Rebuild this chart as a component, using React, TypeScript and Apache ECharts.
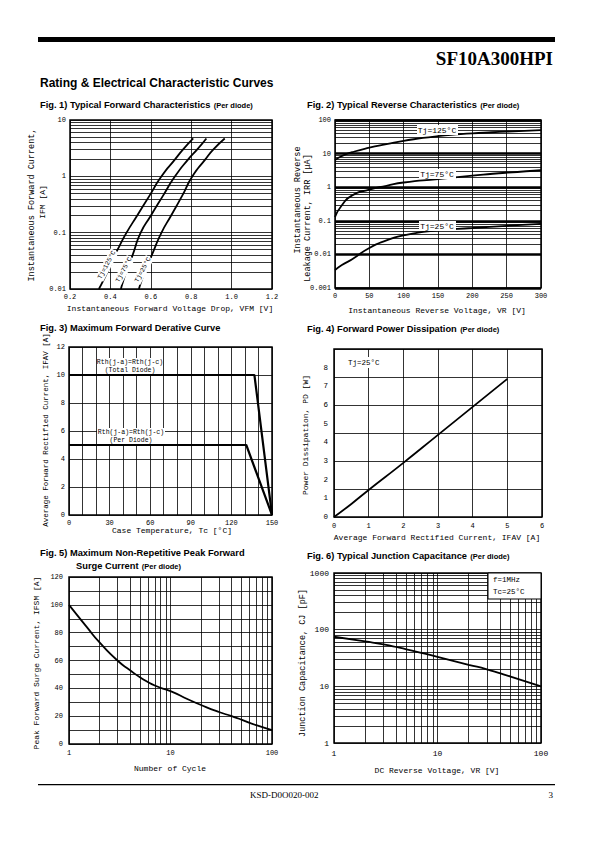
import React, { useEffect, useRef } from "react";
import * as echarts from "echarts";

// ---------- DATA ----------
// Fig 1: forward characteristics (V, A)
const fig1V125 = [0.343, 0.385, 0.415, 0.447, 0.48, 0.532, 0.593, 0.653, 0.72, 0.76, 0.81];
const fig1I125 = [0.01, 0.02, 0.035, 0.06, 0.1, 0.2, 0.45, 1.0, 2.0, 3.0, 4.7];
const fig1V75 = [0.452, 0.478, 0.51, 0.55, 0.6, 0.66, 0.72, 0.785, 0.83, 0.875];
const fig1I75 = [0.01, 0.02, 0.04, 0.1, 0.2, 0.45, 1.0, 2.0, 3.0, 4.7];
const fig1V25 = [0.541, 0.57, 0.605, 0.653, 0.7, 0.755, 0.806, 0.87, 0.91, 0.966];
const fig1I25 = [0.01, 0.02, 0.04, 0.1, 0.2, 0.45, 1.0, 2.0, 3.0, 4.7];
const fig1Labels = ["Tj=125°C", "Tj=75°C", "Tj=25°C"];

// Fig 2: reverse characteristics (V, uA)
const fig2V = [0, 10, 25, 50, 75, 100, 150, 200, 250, 300];
const fig2I125 = [6.4, 8.5, 11, 15, 19, 24, 33, 40, 45, 50];
const fig2I75 = [0.13, 0.29, 0.57, 0.85, 1.1, 1.38, 1.75, 2.2, 2.7, 3.2];
const fig2I25 = [0.0034, 0.0048, 0.0072, 0.0155, 0.026, 0.037, 0.052, 0.061, 0.071, 0.081];
const fig2Labels = ["Tj=125°C", "Tj=75°C", "Tj=25°C"];

// Fig 3: derating (°C, A)
const fig3TcTotal = [0, 137, 150];
const fig3IfTotal = [10, 10, 0];
const fig3TcPer = [0, 131, 150];
const fig3IfPer = [5, 5, 0];

// Fig 4: power dissipation (A, W)
const fig4If = [0, 0.5, 1, 2, 3, 4, 5];
const fig4Pd = [0, 0.7, 1.45, 2.9, 4.4, 5.9, 7.4];

// Fig 5: surge current (cycles, A)
const fig5N = [1, 1.5, 2, 3, 4, 5, 7, 10, 15, 20, 30, 40, 50, 70, 100];
const fig5I = [100, 84, 73, 60, 53, 48, 42, 38, 32, 28, 23, 20, 17.5, 13.5, 10];

// Fig 6: junction capacitance (V, pF)
const fig6V = [1, 2, 3, 5, 10, 20, 30, 50, 100];
const fig6C = [75, 62, 55, 45, 33, 24, 20, 15, 10];

// ---------- STYLE ----------
const MONO = "'Liberation Mono', 'DejaVu Sans Mono', monospace";
const SANS = "'Liberation Sans', Arial, sans-serif";
const SERIF = "'Liberation Serif', 'Times New Roman', serif";
const GRID_LINE = { color: "#000", width: 0.8, type: "solid" as const };

function zip(xs: number[], ys: number[]) {
  return xs.map((x, i) => [x, ys[i]]);
}

function logMinors(lo: number, hi: number) {
  const out: number[] = [];
  for (let d = lo; d < hi * 0.999; d *= 10) {
    for (let k = 2; k <= 9; k++) out.push(Number((d * k).toPrecision(3)));
  }
  return out;
}

function minorMarks(xs: number[], ys: number[], width = 0.8) {
  return {
    silent: true,
    symbol: ["none", "none"],
    label: { show: false },
    emphasis: { disabled: true },
    animation: false,
    lineStyle: { color: "#000", width, type: "solid" },
    data: [...xs.map((v) => ({ xAxis: v })), ...ys.map((v) => ({ yAxis: v }))],
  };
}

function curve(xi: number, yi: number, data: number[][], extra: any = {}) {
  return {
    type: "line",
    xAxisIndex: xi,
    yAxisIndex: yi,
    data,
    showSymbol: false,
    symbol: "none",
    smooth: 0.6,
    silent: true,
    animation: false,
    z: 5,
    lineStyle: { color: "#000", width: 1.8 },
    ...extra,
  };
}

const baseLabel = { color: "#000", fontFamily: MONO, fontSize: 7, margin: 4 };
const plain = (v: number) => String(Number(v.toPrecision(6)));

function axis(gridIndex: number, extra: any = {}, label: any = {}, split: any = {}) {
  return {
    gridIndex,
    axisLine: { show: false },
    axisTick: { show: false },
    splitLine: { show: true, lineStyle: { ...GRID_LINE, ...split } },
    axisLabel: { ...baseLabel, ...label },
    ...extra,
  };
}

function grid(left: number, top: number, width: number, height: number) {
  return { left, top, width, height, show: true, borderColor: "#000", borderWidth: 1.5, containLabel: false };
}

function text(x: number, y: number, t: string, o: any = {}) {
  const { rotation, size, family, weight, align, valign, bg, ...rest } = o;
  return {
    type: "text",
    x,
    y,
    rotation: rotation || 0,
    z: 100,
    silent: true,
    style: {
      text: t,
      fill: "#000",
      fontSize: size || 8,
      fontFamily: family || MONO,
      fontWeight: weight || "normal",
      textAlign: align || "left",
      textVerticalAlign: valign || "middle",
      ...(bg ? { backgroundColor: "#fff", padding: [1, 1] } : {}),
      ...rest,
    },
  };
}

function title(x: number, y: number, main: string, sub: string) {
  return {
    type: "text",
    x,
    y,
    z: 100,
    silent: true,
    style: {
      text: sub ? `{b|${main}} {s|${sub}}` : `{b|${main}}`,
      textVerticalAlign: "middle",
      fill: "#000",
      rich: {
        b: { fontFamily: SANS, fontWeight: "bold", fontSize: 9.3, fill: "#000" },
        s: { fontFamily: SANS, fontWeight: "bold", fontSize: 7.5, fill: "#000" },
      },
    },
  };
}

function whiteRect(x: number, y: number, w: number, h: number, stroke = false) {
  return {
    type: "rect",
    z: 90,
    silent: true,
    shape: { x, y, width: w, height: h },
    style: { fill: "#fff", stroke: stroke ? "#000" : undefined, lineWidth: stroke ? 1 : 0 },
  };
}

const deg = Math.PI / 180;

export default function App() {
  const ref = useRef<HTMLDivElement>(null);
  useEffect(() => {
    if (!ref.current) return;
    const chart = echarts.init(ref.current, undefined, { renderer: "svg" });

    const option: any = {
      animation: false,
      backgroundColor: "#fff",
      grid: [
        grid(70, 120, 202, 169),
        grid(335, 120, 206, 168),
        grid(69, 347, 203, 168),
        grid(334, 349, 208, 168),
        grid(69, 577, 203, 167),
        grid(334, 573, 207, 170),
      ],
      xAxis: [
        axis(0, { type: "value", min: 0.2, max: 1.2, interval: 0.2 }, { formatter: (v: number) => v.toFixed(1) }),
        axis(1, { type: "value", min: 0, max: 300, interval: 50 }),
        axis(2, { type: "value", min: 0, max: 150, interval: 10 }, { formatter: (v: number) => (v % 30 === 0 ? String(v) : "") }),
        axis(3, { type: "value", min: 0, max: 6, interval: 1 }, { margin: 5 }),
        axis(4, { type: "log", logBase: 10, min: 1, max: 100 }, { margin: 5, formatter: plain }),
        axis(5, { type: "log", logBase: 10, min: 1, max: 100 }, { margin: 6, fontSize: 8, formatter: plain }),
      ],
      yAxis: [
        axis(0, { type: "log", logBase: 10, min: 0.01, max: 10 }, { formatter: plain }),
        axis(1, { type: "log", logBase: 10, min: 0.001, max: 100 }, { formatter: plain }, { width: 2.5 }),
        axis(2, { type: "value", min: 0, max: 12, interval: 2 }),
        axis(3, { type: "value", min: 0, max: 9, interval: 1, splitLine: { show: false } }, { margin: 6, fontSize: 7.5, formatter: (v: number) => (v <= 8 ? String(v) : "") }),
        axis(3, { type: "value", min: 0, max: 9, interval: 1.5, axisLabel: { show: false } }),
        axis(4, { type: "value", min: 0, max: 120, interval: 10 }, { margin: 6, formatter: (v: number) => (v % 20 === 0 ? String(v) : "") }),
        axis(5, { type: "log", logBase: 10, min: 1, max: 1000 }, { margin: 5, fontSize: 8, formatter: plain }),
      ],
      series: [
        // Fig 1
        curve(0, 0, zip(fig1V125, fig1I125), { markLine: minorMarks([], logMinors(0.01, 10)) }),
        curve(0, 0, zip(fig1V75, fig1I75)),
        curve(0, 0, zip(fig1V25, fig1I25)),
        // Fig 2
        curve(1, 1, zip(fig2V, fig2I125), { markLine: minorMarks([], logMinors(0.001, 100)) }),
        curve(1, 1, zip(fig2V, fig2I75)),
        curve(1, 1, zip(fig2V, fig2I25)),
        // Fig 3
        curve(2, 2, zip(fig3TcTotal, fig3IfTotal), { smooth: false, lineStyle: { color: "#000", width: 2.2 } }),
        curve(2, 2, zip(fig3TcPer, fig3IfPer), { smooth: false, lineStyle: { color: "#000", width: 2.2 } }),
        // Fig 4
        curve(3, 3, zip(fig4If, fig4Pd)),
        // Fig 5
        curve(4, 5, zip(fig5N, fig5I), { markLine: minorMarks(logMinors(1, 100), []) }),
        // Fig 6
        curve(5, 6, zip(fig6V, fig6C), { markLine: minorMarks(logMinors(1, 100), logMinors(1, 1000)) }),
      ],
      graphic: [
        // header
        { type: "rect", silent: true, shape: { x: 38, y: 37, width: 517, height: 5 }, style: { fill: "#000" } },
        text(553, 58, "SF10A300HPI", { family: SERIF, weight: "bold", size: 19, align: "right" }),
        text(40, 83, "Rating & Electrical Characteristic Curves", { family: SANS, weight: "bold", size: 12 }),
        // titles
        title(40, 105, "Fig. 1) Typical Forward Characteristics", "(Per diode)"),
        title(307, 105, "Fig. 2) Typical Reverse Characteristics", "(Per diode)"),
        title(40, 328, "Fig. 3) Maximum Forward Derative Curve", ""),
        title(307, 329, "Fig. 4) Forward Power Dissipation", "(Per diode)"),
        title(40, 553, "Fig. 5) Maximum Non-Repetitive Peak Forward", ""),
        title(76, 566, "Surge Current", "(Per diode)"),
        title(307, 556, "Fig. 6) Typical Junction Capacitance", "(Per diode)"),
        // axis titles fig1
        text(32, 205, "Instantaneous Forward Current,", { rotation: Math.PI / 2, align: "center", size: 8.5 }),
        text(42, 202, "IFM [A]", { rotation: Math.PI / 2, align: "center", size: 8 }),
        text(170, 308, "Instantaneous Forward Voltage Drop, VFM [V]", { align: "center", size: 8 }),
        // fig1 curve labels
        text(107, 265, fig1Labels[0], { rotation: 62 * deg, align: "center", size: 6.5, bg: true }),
        text(124, 270, fig1Labels[1], { rotation: 62 * deg, align: "center", size: 6.5, bg: true }),
        text(143, 270, fig1Labels[2], { rotation: 62 * deg, align: "center", size: 6.5, bg: true }),
        // fig2
        text(298, 200, "Instantaneous Reverse", { rotation: Math.PI / 2, align: "center", size: 8.5 }),
        text(308, 218, "Leakage Current, IRR [μA]", { rotation: Math.PI / 2, align: "center", size: 8.5 }),
        text(437, 310, "Instantaneous Reverse Voltage, VR [V]", { align: "center", size: 8 }),
        whiteRect(417, 125, 41, 10),
        text(437, 130, fig2Labels[0], { align: "center", size: 8 }),
        whiteRect(419, 169, 37, 10),
        text(437, 174, fig2Labels[1], { align: "center", size: 8 }),
        whiteRect(419, 221, 37, 10),
        text(437, 226, fig2Labels[2], { align: "center", size: 8 }),
        // fig3
        text(46, 430, "Average Forward Rectified Current, IFAV [A]", { rotation: Math.PI / 2, align: "center", size: 7.5 }),
        text(172, 530, "Case Temperature, Tc [°C]", { align: "center", size: 8 }),
        whiteRect(97, 358, 66, 16),
        text(130, 362, "Rth(j-a)=Rth(j-c)", { align: "center", size: 6.5 }),
        text(130, 370, "(Total Diode)", { align: "center", size: 6.5 }),
        whiteRect(97, 428, 68, 16),
        text(131, 432, "Rth(j-a)=Rth(j-c)", { align: "center", size: 6.5 }),
        text(131, 440, "(Per Diode)", { align: "center", size: 6.5 }),
        // fig4
        text(305, 435, "Power Dissipation, PD [W]", { rotation: Math.PI / 2, align: "center", size: 8 }),
        text(437, 537, "Average Forward Rectified Current, IFAV [A]", { align: "center", size: 8 }),
        whiteRect(346, 357, 36, 11),
        text(348, 363, "Tj=25°C", { size: 7.5 }),
        // fig5
        text(36, 663, "Peak Forward Surge Current, IFSM [A]", { rotation: Math.PI / 2, align: "center", size: 8 }),
        text(170, 768, "Number of Cycle", { align: "center", size: 8 }),
        // fig6
        text(303, 663, "Junction Capacitance, CJ [pF]", { rotation: Math.PI / 2, align: "center", size: 8.5 }),
        text(437, 770, "DC Reverse Voltage, VR [V]", { align: "center", size: 8 }),
        whiteRect(488, 573, 53, 26, true),
        text(493, 580, "f=1MHz", { size: 7.5 }),
        text(493, 592, "Tc=25°C", { size: 7.5 }),
        // footer
        { type: "rect", silent: true, shape: { x: 38, y: 784, width: 517, height: 1.2 }, style: { fill: "#000" } },
        text(250, 795, "KSD-D0O020-002", { family: SERIF, size: 9 }),
        text(553, 795, "3", { family: SERIF, size: 9, align: "right" }),
      ],
    };

    chart.setOption(option);
    return () => chart.dispose();
  }, []);

  return (
    <div
      ref={ref}
      style={{ position: "absolute", left: 0, top: 0, width: 595, height: 842, background: "#fff" }}
    />
  );
}
